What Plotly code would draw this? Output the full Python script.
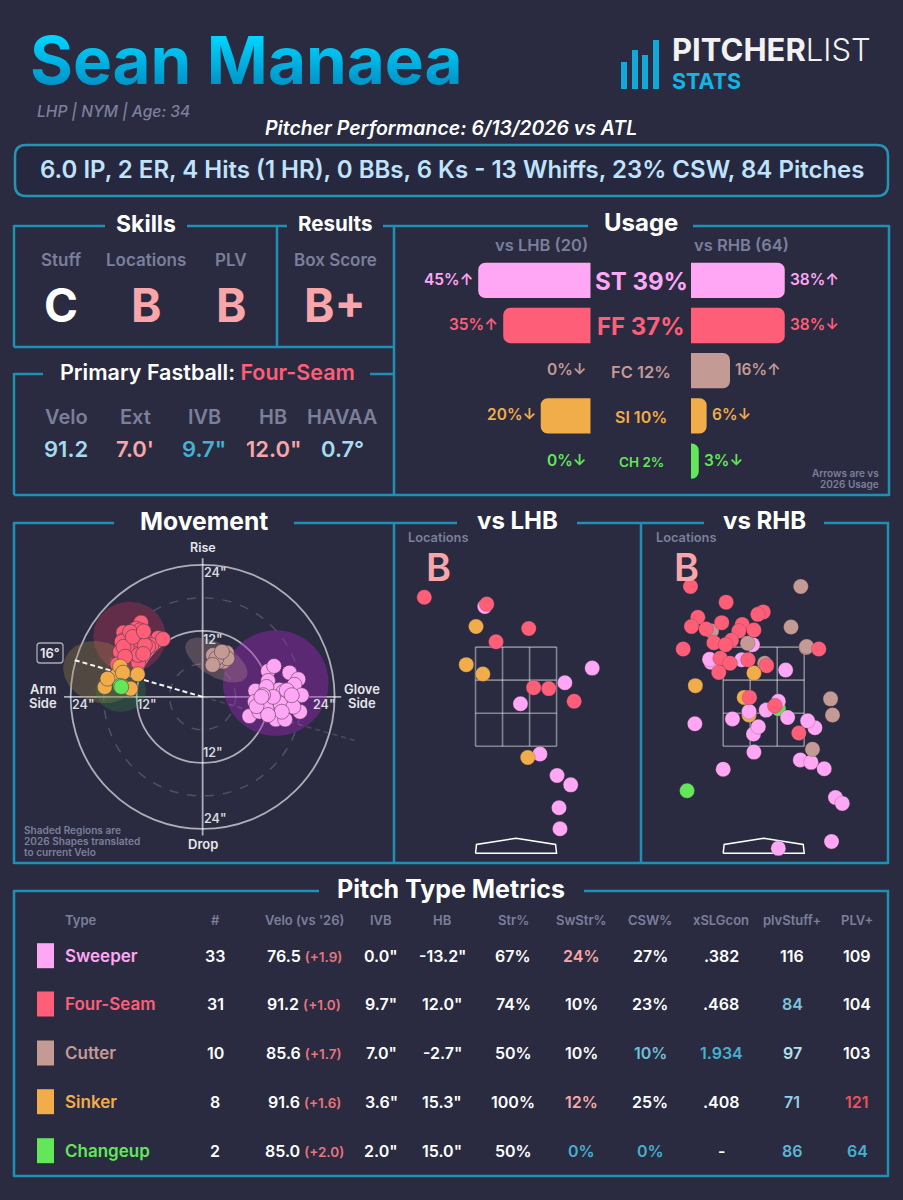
"""
    Pitcher List daily card for Sean Manaea, drawn as one Plotly figure.
"""

import numpy as np
import plotly.graph_objects as go

WIDTH = 903
HEIGHT = 1200
FONT = "Inter"
BG = "#2a2b40"
FRAME = "#1f8fb3"
GREY = "#7b7f9c"
WHITE = "#ffffff"
PINK = "#f9a6aa"
BLUE = "#45b0d0"
LIGHT_BLUE = "#a3dcef"

ST = "#ffa6f5"
FF = "#ff5e78"
FC = "#c49a94"
SI = "#f0ad4a"
CH = "#63e65a"

# movement plot, inches
st_hb = [-11.9, -13.0, -11.9, -15.8, -17.4, -16.7, -9.6, -13.9, -18.0, -9.5, -15.7, -12.2, -11.3, -17.7, -8.5,
         -10.3, -13.5, -12.5, -13.3, -15.0, -14.7, -11.6, -14.1, -16.5, -11.6, -12.8, -15.3, -11.0, -16.2, -14.4,
         -9.8, -11.9, -10.7]
st_ivb = [4.7, 5.6, 2.9, 4.4, 3.2, 2.2, 1.1, 1.3, 0.3, -0.9, -0.5, -0.6, -1.5, -2.7, -3.5,
          -2.7, -2.5, -2.3, -4.1, -4.1, 0.9, 1.8, -1.2, -1.8, -2.1, 0.0, 1.2, 0.3, 0.3, -2.7,
          -1.7, -3.3, 0.0]
ff_hb = [11.2, 14.4, 12.1, 8.1, 10.5, 13.8, 11.4, 15.0, 12.9, 13.5, 11.7, 15.5, 14.4, 9.3, 12.3, 12.0,
         9.9, 12.6, 13.8, 14.7, 11.1, 11.7, 14.4, 11.4, 13.2, 10.5, 14.1, 7.2, 12.7, 10.7, 10.8]
ff_ivb = [13.5, 11.7, 12.4, 10.7, 10.3, 10.3, 9.7, 8.2, 9.4, 7.9, 6.2, 5.9, 10.3, 9.4, 11.2, 8.8,
          9.1, 7.9, 9.1, 10.0, 10.9, 7.6, 9.1, 12.1, 11.8, 9.4, 7.3, 10.5, 10.9, 11.9, 7.8]
fc_hb = [-2.1, -3.2, -4.4, -3.8, -1.9, -2.8, -4.5, -2.5, -3.5, -1.8]
fc_ivb = [6.1, 7.3, 8.0, 6.4, 7.6, 6.4, 7.0, 7.0, 8.2, 5.8]
si_hb = [14.4, 15.6, 13.1, 17.8, 17.3, 15.0, 14.5, 11.8]
si_ivb = [1.8, 3.9, 1.5, 1.8, 3.3, 5.5, 4.4, 4.1]
ch_hb = [15.0, 14.8]
ch_ivb = [2.0, 1.8]

# 2026 shapes behind the points
region_hb = [13.3, 18.7, 14.9, -13.3, -2.5]
region_ivb = [10.9, 4.5, 1.2, 2.5, 6.7]
region_rx = [6.6, 6.8, 4.6, 9.6, 6.3]
region_ry = [6.4, 5.5, 3.9, 9.6, 3.0]
region_tilt = [0, 20, 0, 0, 30]
region_color = ["rgba(200,50,90,0.36)", "rgba(170,140,70,0.30)", "rgba(60,150,70,0.25)",
                "rgba(150,40,180,0.45)", "rgba(196,154,148,0.28)"]
arm_angle = 16

# locations, feet
lhb_st_x = [-0.64, 1.56, 1.00, 0.09, 0.49, 0.84, 1.12, 0.88, 0.90]
lhb_st_z = [4.36, 3.10, 2.80, 2.37, 1.34, 0.90, 0.71, 0.24, -0.19]
lhb_ff_x = [-1.88, -0.60, 0.26, -0.41, 0.36, 0.67, 1.19]
lhb_ff_z = [4.55, 4.41, 3.91, 3.64, 2.70, 2.68, 2.42]
lhb_si_x = [-0.82, -1.02, -0.68, 0.24]
lhb_si_z = [3.95, 3.17, 2.98, 1.27]

rhb_ch_x = [-1.57, 0.30]
rhb_ch_z = [0.59, 2.27]
rhb_si_x = [-1.40, -0.20, -0.40, -0.30]
rhb_si_z = [2.74, 3.00, 2.50, 2.14]
rhb_st_x = [-1.08, -1.11, -0.23, -0.45, 0.45, 0.30, 0.05, -0.30, -0.64, 0.49, -1.41, 1.05, 0.90, -0.21, -0.11,
            -0.20, -0.83, 0.75, 0.97, 1.24, 1.47, 1.61, 1.39, 0.30]
rhb_st_z = [3.22, 3.28, 3.58, 3.27, 3.06, 2.42, 2.24, 2.21, 2.06, 2.09, 1.96, 1.88, 2.02, 1.75, 1.90,
            1.38, 1.03, 1.22, 1.17, 1.04, 0.45, 0.33, -0.45, -0.59]
rhb_fc_x = [0.76, 0.56, -1.07, -0.33, 0.87, 0.88, 0.02, 1.37, 1.41, 1.00]
rhb_fc_z = [4.77, 3.94, 3.86, 3.61, 3.52, 3.54, 3.20, 2.47, 2.14, 1.44]
rhb_ff_x = [-1.50, -0.77, -0.01, -0.12, -1.35, -1.48, -1.18, -0.86, -0.44, -0.51, -0.20, -0.66, -1.02, -0.78,
            -1.65, 1.13, -0.89, -0.69, -0.92, -0.32, 0.06, -0.29, 0.23, 0.72]
rhb_ff_z = [4.77, 4.45, 4.25, 4.20, 4.14, 3.95, 3.90, 4.03, 3.99, 3.86, 3.88, 3.67, 3.62, 3.58,
            3.49, 3.49, 3.30, 3.20, 3.01, 3.27, 3.15, 2.50, 2.33, 1.77]

# usage
usage_codes = ["ST", "FF", "FC", "SI", "CH"]
usage_colors = [ST, FF, FC, SI, CH]
usage_lhb = [45.0, 35.0, 0.0, 20.0, 0.0]
usage_rhb = [37.5, 37.5, 15.6, 6.25, 3.1]
usage_all = ["39%", "37%", "12%", "10%", "2%"]
arrows_lhb = ["↑", "↑", "↓", "↓", "↓"]
arrows_rhb = ["↑", "↓", "↑", "↓", "↓"]

# table
table_names = ["Sweeper", "Four-Seam", "Cutter", "Sinker", "Changeup"]
table_headers = ["#", "Velo (vs '26)", "IVB", "HB", "Str%", "SwStr%", "CSW%", "xSLGcon", "plvStuff+", "PLV+"]
table_count = ["33", "31", "10", "8", "2"]
table_velo = ["76.5", "91.2", "85.6", "91.6", "85.0"]
table_delta = ["(+1.9)", "(+1.0)", "(+1.7)", "(+1.6)", "(+2.0)"]
table_ivb = ['0.0"', '9.7"', '7.0"', '3.6"', '2.0"']
table_hb = ['-13.2"', '12.0"', '-2.7"', '15.3"', '15.0"']
table_str = ["67%", "74%", "50%", "100%", "50%"]
table_swstr = ["24%", "10%", "10%", "12%", "0%"]
table_csw = ["27%", "23%", "10%", "25%", "0%"]
table_xslg = [".382", ".468", "1.934", ".408", "-"]
table_stuff = ["116", "84", "97", "71", "86"]
table_plv = ["109", "104", "103", "121", "64"]
swstr_colors = [PINK, WHITE, WHITE, PINK, BLUE]
csw_colors = [WHITE, WHITE, "#6fc0da", WHITE, BLUE]
xslg_colors = [WHITE, WHITE, BLUE, WHITE, WHITE]
stuff_colors = [WHITE, "#7ec4dc", "#b5e0ee", "#8fd0e4", "#5cb8d6"]
plv_colors = [WHITE, WHITE, WHITE, "#f0505a", BLUE]

col_x = [215, 304, 381, 442, 513, 581, 650, 721, 792, 857]
row_y = [955.7, 1004, 1053, 1101.7, 1150.7]

fig = go.Figure()
shapes = []
annotations = []


def px_x(x):
    return x / WIDTH


def px_y(y):
    return 1 - y / HEIGHT


def label(x, y, text, size, color=WHITE, weight=600, anchor="center", italic=False):
    annotations.append(dict(
        x=px_x(x), y=px_y(y), xref="paper", yref="paper", text=text, showarrow=False,
        xanchor=anchor, yanchor="middle", align=anchor if anchor != "center" else "center",
        font=dict(family=FONT, size=size, color=color, weight=weight, style="italic" if italic else "normal"),
    ))


def line(x0, y0, x1, y1, color=FRAME, width=2.5):
    shapes.append(dict(type="line", xref="paper", yref="paper", x0=px_x(x0), y0=px_y(y0), x1=px_x(x1), y1=px_y(y1),
                       line=dict(color=color, width=width), layer="below"))


def rounded_box(x0, y0, x1, y1, r, color, width, fill="rgba(0,0,0,0)"):
    p = (f"M {px_x(x0 + r)} {px_y(y0)} L {px_x(x1 - r)} {px_y(y0)} Q {px_x(x1)} {px_y(y0)} {px_x(x1)} {px_y(y0 + r)} "
         f"L {px_x(x1)} {px_y(y1 - r)} Q {px_x(x1)} {px_y(y1)} {px_x(x1 - r)} {px_y(y1)} "
         f"L {px_x(x0 + r)} {px_y(y1)} Q {px_x(x0)} {px_y(y1)} {px_x(x0)} {px_y(y1 - r)} "
         f"L {px_x(x0)} {px_y(y0 + r)} Q {px_x(x0)} {px_y(y0)} {px_x(x0 + r)} {px_y(y0)} Z")
    shapes.append(dict(type="path", xref="paper", yref="paper", path=p, fillcolor=fill,
                       line=dict(color=color, width=width), layer="below"))


def points(x, y, color, xaxis, yaxis, size=15, edge=0.7):
    fig.add_trace(go.Scatter(
        x=x, y=y, mode="markers", xaxis=xaxis, yaxis=yaxis, hoverinfo="skip", showlegend=False,
        marker=dict(color=color, size=size, line=dict(color="rgba(70,50,70,0.75)", width=edge)),
    ))


# panel frames
frame_segments = [
    (14, 226, 105, 226), (187, 226, 287, 226), (383, 226, 588, 226), (693, 226, 889, 226),
    (14, 225, 14, 347), (277, 226, 277, 347), (394, 225, 394, 495), (889, 225, 889, 496),
    (14, 347, 394, 347), (14, 374, 43, 374), (370, 374, 394, 374), (14, 373, 14, 495), (14, 495, 889, 495),
    (14, 523, 114, 523), (294, 523, 457, 523), (577, 523, 704, 523), (824, 523, 889, 523),
    (14, 522, 14, 864), (394, 523, 394, 863), (641, 523, 641, 863), (888, 522, 888, 864), (14, 863, 888, 863),
    (14, 891, 319, 891), (584, 891, 889, 891), (14, 890, 14, 1177), (888, 890, 888, 1177), (14, 1176, 888, 1176),
]
for seg in frame_segments:
    line(*seg)

# header
label(28, 61, "Sean Manaea", 65.5, "#00bfea", 700, "left")
label(35, 111, "LHP | NYM | Age: 34", 15.6, GREY, 500, "left", True)
label(451, 128, "Pitcher Performance: 6/13/2026 vs ATL", 19.5, WHITE, 600, italic=True)
rounded_box(15, 145, 888, 196, 11, "#2593b3", 2.5, "#262840")
label(452, 169, "6.0 IP, 2 ER, 4 Hits (1 HR), 0 BBs, 6 Ks - 13 Whiffs, 23% CSW, 84 Pitches", 24, "#bfe3fb", 600)

logo_left = [621, 632, 642, 653]
logo_top = [62, 50, 55, 40]
for lx, ly in zip(logo_left, logo_top):
    shapes.append(dict(type="rect", xref="paper", yref="paper", x0=px_x(lx), x1=px_x(lx + 6), y0=px_y(ly), y1=px_y(89),
                       fillcolor="#12a8d8", line=dict(width=0)))
label(670, 50, "<b>PITCHER</b><span style='font-weight:300'>LIST</span>", 31, "#f2f2f2", 400, "left")
label(670, 81.5, "STATS", 21.5, "#12b5e5", 700, "left")

# skills and results
label(146, 224, "Skills", 23, WHITE, 700)
label(335, 224, "Results", 20.5, WHITE, 700)
skill_x = [61, 146, 231, 335]
skill_names = ["Stuff", "Locations", "PLV", "Box Score"]
skill_grades = ["C", "B", "B", "B+"]
skill_colors = [WHITE, PINK, PINK, PINK]
for sx, sn, sg, sc in zip(skill_x, skill_names, skill_grades, skill_colors):
    label(sx, 260, sn, 17, GREY)
    label(sx, 305, sg, 46, sc, 700)

# primary fastball
label(207, 372, f"Primary Fastball: <span style='color:{FF}'>Four-Seam</span>", 21.5, WHITE, 600)
fb_x = [66, 135, 204, 273, 342]
fb_names = ["Velo", "Ext", "IVB", "HB", "HAVAA"]
fb_values = ["91.2", "7.0'", '9.7"', '12.0"', "0.7°"]
fb_colors = [LIGHT_BLUE, PINK, BLUE, PINK, LIGHT_BLUE]
for fx, fn, fv, fc in zip(fb_x, fb_names, fb_values, fb_colors):
    label(fx, 417, fn, 20, GREY)
    label(fx, 449, fv, 22, fc)

# usage
label(640.5, 223, "Usage", 24, WHITE, 700)
label(541, 245, "vs LHB (20)", 16.5, GREY)
label(741, 245, "vs RHB (64)", 16.5, GREY)
label(881, 473, "Arrows are vs", 10, GREY, 600, "right")
label(881, 484, "2026 Usage", 10, GREY, 600, "right")

fig.add_trace(go.Bar(y=usage_codes, x=usage_lhb, orientation="h", xaxis="x4", yaxis="y4", marker_color=usage_colors,
                     marker_line_width=0, hoverinfo="skip", showlegend=False))
fig.add_trace(go.Bar(y=usage_codes, x=usage_rhb, orientation="h", xaxis="x5", yaxis="y5", marker_color=usage_colors,
                     marker_line_width=0, hoverinfo="skip", showlegend=False))

center_sizes = [24, 24, 16.5, 16, 13.5]
center_weights = [700, 700, 600, 600, 600]
for i, code in enumerate(usage_codes):
    annotations.append(dict(x=usage_lhb[i], y=code, xref="x4", yref="y4", text=f"{usage_lhb[i]:.0f}%{arrows_lhb[i]}",
                            xanchor="right", yanchor="middle", showarrow=False, xshift=-3, yshift=1,
                            font=dict(family=FONT, size=15.5, color=usage_colors[i], weight=600)))
    annotations.append(dict(x=usage_rhb[i], y=code, xref="x5", yref="y5", text=f"{usage_rhb[i]:.0f}%{arrows_rhb[i]}",
                            xanchor="left", yanchor="middle", showarrow=False, xshift=3, yshift=1,
                            font=dict(family=FONT, size=15.5, color=usage_colors[i], weight=600)))
    annotations.append(dict(x=0.5, y=code, xref="paper", yref="y4", text=f"{code} {usage_all[i]}",
                            xanchor="center", yanchor="middle", showarrow=False, xshift=189.5, yshift=-1,
                            font=dict(family=FONT, size=center_sizes[i], color=usage_colors[i],
                                      weight=center_weights[i])))

# movement
label(204, 521, "Movement", 24.7, WHITE, 700)
for r, dash in [(24, "solid"), (12, "solid"), (18, "dash"), (6, "dash")]:
    colour = "rgba(255,255,255,0.62)" if dash == "solid" else "rgba(255,255,255,0.18)"
    shapes.append(dict(type="circle", xref="x", yref="y", x0=-r, x1=r, y0=-r, y1=r,
                       line=dict(color=colour, width=1.8 if dash == "solid" else 1.5, dash=dash), layer="below"))
shapes.append(dict(type="line", xref="x", yref="y", x0=25.2, x1=-25.2, y0=0, y1=0,
                   line=dict(color="rgba(255,255,255,0.62)", width=1.8), layer="below"))
shapes.append(dict(type="line", xref="x", yref="y", x0=0, x1=0, y0=25.2, y1=-25.2,
                   line=dict(color="rgba(255,255,255,0.62)", width=1.8), layer="below"))

t = np.linspace(0, 2 * np.pi, 80)
for hb, ivb, rx, ry, tilt, colour in zip(region_hb, region_ivb, region_rx, region_ry, region_tilt, region_color):
    a = np.radians(tilt)
    fig.add_trace(go.Scatter(
        x=hb + rx * np.cos(t) * np.cos(a) - ry * np.sin(t) * np.sin(a),
        y=ivb + rx * np.cos(t) * np.sin(a) + ry * np.sin(t) * np.cos(a),
        mode="lines", fill="toself", fillcolor=colour, line=dict(width=0),
        xaxis="x", yaxis="y", hoverinfo="skip", showlegend=False,
    ))

a = np.radians(arm_angle)
fig.add_trace(go.Scatter(x=[0, 24.5 * np.cos(a)], y=[0, 24.5 * np.sin(a)], mode="lines", xaxis="x", yaxis="y",
                         line=dict(color="rgba(255,255,255,0.95)", width=2, dash="5px,3px"),
                         hoverinfo="skip", showlegend=False))
fig.add_trace(go.Scatter(x=[0, -29 * np.cos(a)], y=[0, -29 * np.sin(a)], mode="lines", xaxis="x", yaxis="y",
                         line=dict(color="rgba(255,255,255,0.15)", width=1.5, dash="5px,4px"),
                         hoverinfo="skip", showlegend=False))

points(st_hb, st_ivb, ST, "x", "y")
points(fc_hb, fc_ivb, FC, "x", "y")
points(ff_hb, ff_ivb, FF, "x", "y")
points(si_hb, si_ivb, SI, "x", "y")
points(ch_hb, ch_ivb, CH, "x", "y")

tick_hb = [-2.2, -1.9, -1.9, -2.2, 21.8, 10.1, -22.1]
tick_ivb = [22.6, 10.5, -10.1, -22.1, -1.3, -1.3, -1.3]
tick_txt = ['24"', '12"', '12"', '24"', '24"', '12"', '24"']
for hb, ivb, txt in zip(tick_hb, tick_ivb, tick_txt):
    annotations.append(dict(x=hb, y=ivb, xref="x", yref="y", text=txt, showarrow=False, xanchor="center",
                            yanchor="middle", font=dict(family=FONT, size=12.5, color="#d8d8de", weight=600)))
label(203, 547, "Rise", 12.5, "#e6e6ea")
label(203, 844, "Drop", 13, "#e6e6ea")
label(43, 689, "Arm", 13, "#e6e6ea")
label(43, 703, "Side", 13, "#e6e6ea")
label(362, 689, "Glove", 13, "#e6e6ea")
label(362, 703, "Side", 13, "#e6e6ea")
rounded_box(37, 643, 63, 663, 3, "rgba(255,255,255,0.6)", 1.3)
label(50, 652.5, f"{arm_angle}°", 13, "#e6e6ea")
label(22, 830, "Shaded Regions are", 10.1, GREY, 600, "left")
label(22, 841, "2026 Shapes translated", 10.1, GREY, 600, "left")
label(22, 852, "to current Velo", 10.1, GREY, 600, "left")

# locations
for title, tx, x_ref, y_ref, gx in [("vs LHB", 517, "x2", "y2", 438), ("vs RHB", 764, "x3", "y3", 686)]:
    label(tx, 521, title, 24, WHITE, 700)
    label(gx, 538, "Locations", 12.8, GREY)
    label(gx, 567, "B", 38, PINK, 600)
    grid = "rgba(255,255,255,0.42)"
    for gv in [-0.83, -0.277, 0.277, 0.83]:
        shapes.append(dict(type="line", xref=x_ref, yref=y_ref, x0=gv, x1=gv, y0=1.5, y1=3.53,
                           line=dict(color=grid, width=1.6), layer="below"))
    for gv in [1.5, 2.177, 2.853, 3.53]:
        shapes.append(dict(type="line", xref=x_ref, yref=y_ref, x0=-0.83, x1=0.83, y0=gv, y1=gv,
                           line=dict(color=grid, width=1.6), layer="below"))
    fig.add_trace(go.Scatter(x=[-0.83, 0.83, 0.81, 0, -0.81, -0.83], y=[-0.69, -0.69, -0.51, -0.385, -0.51, -0.69],
                             mode="lines", xaxis=x_ref, yaxis=y_ref, line=dict(color=WHITE, width=1.5),
                             hoverinfo="skip", showlegend=False))

points(lhb_st_x, lhb_st_z, ST, "x2", "y2", edge=0.3)
points(lhb_ff_x, lhb_ff_z, FF, "x2", "y2", edge=0.3)
points(lhb_si_x, lhb_si_z, SI, "x2", "y2", edge=0.3)
points(rhb_ch_x, rhb_ch_z, CH, "x3", "y3", edge=0.3)
points(rhb_si_x, rhb_si_z, SI, "x3", "y3", edge=0.3)
points(rhb_st_x, rhb_st_z, ST, "x3", "y3", edge=0.3)
points(rhb_fc_x, rhb_fc_z, FC, "x3", "y3", edge=0.3)
points(rhb_ff_x, rhb_ff_z, FF, "x3", "y3", edge=0.3)

# table
label(451, 889, "Pitch Type Metrics", 25, WHITE, 700)
label(63, 920, "Type", 13, GREY, 600, "left")
for cx, head in zip(col_x, table_headers):
    label(cx, 920, head, 13, GREY, 600)

for i, y in enumerate(row_y):
    shapes.append(dict(type="rect", xref="paper", yref="paper", x0=px_x(37), x1=px_x(54), y0=px_y(y - 12.5),
                       y1=px_y(y + 12.5), fillcolor=usage_colors[i], line=dict(width=0)))
    label(63, y, table_names[i], 17, usage_colors[i], 600, "left")
    velo = f"{table_velo[i]} <span style='color:#e9747e;font-size:13.5px'>{table_delta[i]}</span>"
    row = [table_count[i], velo, table_ivb[i], table_hb[i], table_str[i], table_swstr[i], table_csw[i],
           table_xslg[i], table_stuff[i], table_plv[i]]
    colors = [WHITE, WHITE, WHITE, WHITE, WHITE, swstr_colors[i], csw_colors[i], xslg_colors[i], stuff_colors[i],
              plv_colors[i]]
    for cx, cell, colour in zip(col_x, row, colors):
        label(cx, y, cell, 16, colour, 600)


def x_domain(a, b):
    return [a / WIDTH, b / WIDTH]


def y_domain(top, bottom):
    return [1 - bottom / HEIGHT, 1 - top / HEIGHT]


hidden = dict(visible=False, fixedrange=True, showgrid=False, zeroline=False)
usage_top = 257.7
usage_bottom = 483.7

fig.update_layout(
    width=WIDTH, height=HEIGHT, margin=dict(l=0, r=0, t=0, b=0),
    paper_bgcolor=BG, plot_bgcolor="rgba(0,0,0,0)", showlegend=False, dragmode=False,
    bargap=0.22, barcornerradius=7, font=dict(family=FONT),
    shapes=shapes, annotations=annotations,
    xaxis=dict(domain=x_domain(14, 394), range=[34.3, -34.8], anchor="y", **hidden),
    yaxis=dict(domain=y_domain(523, 863), range=[-30.2, 31.6], anchor="x", **hidden),
    xaxis2=dict(domain=x_domain(395, 641), range=[-2.48, 2.56], anchor="y2", **hidden),
    yaxis2=dict(domain=y_domain(523, 863), range=[-0.89, 6.07], anchor="x2", **hidden),
    xaxis3=dict(domain=x_domain(641, 888), range=[-2.514, 2.547], anchor="y3", **hidden),
    yaxis3=dict(domain=y_domain(523, 863), range=[-0.89, 6.07], anchor="x3", **hidden),
    xaxis4=dict(domain=x_domain(394, 590.7), range=[78.7, 0], anchor="y4", **hidden),
    yaxis4=dict(domain=y_domain(usage_top, usage_bottom), categoryorder="array", categoryarray=usage_codes,
                autorange="reversed", anchor="x4", **hidden),
    xaxis5=dict(domain=x_domain(691, 889), range=[0, 79.2], anchor="y5", **hidden),
    yaxis5=dict(domain=y_domain(usage_top, usage_bottom), categoryorder="array", categoryarray=usage_codes,
                autorange="reversed", anchor="x5", **hidden),
)

# drop the page margin and give the name its top to bottom gradient
post_script = """
document.body.style.margin = '0';
var gd = document.getElementById('{plot_id}');
var svg = gd.querySelector('svg.main-svg');
var ns = 'http://www.w3.org/2000/svg';
var grad = document.createElementNS(ns, 'linearGradient');
grad.setAttribute('id', 'nameGradient');
grad.setAttribute('x1', '0'); grad.setAttribute('y1', '0'); grad.setAttribute('x2', '0'); grad.setAttribute('y2', '1');
[['0.2', '#00d4ff'], ['0.8', '#0094c8']].forEach(function (s) {
    var stop = document.createElementNS(ns, 'stop');
    stop.setAttribute('offset', s[0]); stop.setAttribute('stop-color', s[1]);
    grad.appendChild(stop);
});
svg.querySelector('defs').appendChild(grad);
gd.querySelectorAll('.annotation-text').forEach(function (el) {
    if (el.textContent === 'Sean Manaea') el.style.fill = 'url(#nameGradient)';
});
"""

fig.write_html("out.html", post_script=post_script, config={"displayModeBar": False})
